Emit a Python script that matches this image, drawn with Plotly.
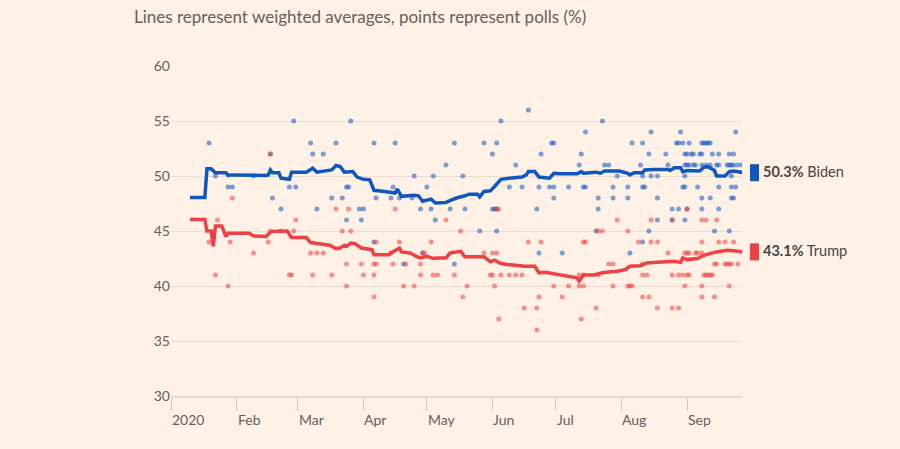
import plotly.graph_objects as go
import pandas as pd

# ---------------- data (day = days since 2020-01-01) ----------------
biden_avg_day = [9, 16, 17, 19, 21, 26, 27, 28, 45, 46, 47, 48, 51, 52, 56, 57, 64, 67, 69, 73, 76, 78, 80, 82, 86, 88, 91, 94, 96, 101, 104, 106, 107, 109, 115, 117, 119, 122, 123, 125, 130, 133, 135, 139, 141, 145, 146, 148, 151, 153, 156, 160, 164, 166, 168, 169, 172, 174, 179, 181, 184, 192, 194, 195, 201, 203, 205, 212, 216, 217, 219, 223, 224, 228, 235, 236, 238, 241, 242, 244, 250, 252, 254, 257, 258, 261, 262, 264, 266, 271]
biden_avg_pct = [48.05, 48.05, 50.65, 50.65, 50.3, 50.3, 50.05, 50.1, 50.05, 50.1, 50.55, 50.3, 50.3, 49.8, 49.7, 50.35, 50.35, 50.7, 50.35, 50.45, 50.55, 50.95, 50.85, 50.35, 50.4, 49.9, 49.7, 49.65, 48.7, 48.6, 48.55, 48.45, 48.8, 48.15, 48.25, 48.2, 47.7, 47.8, 47.9, 47.55, 47.6, 47.85, 48.0, 48.2, 48.35, 48.35, 48.1, 48.6, 48.65, 49.05, 49.7, 49.8, 49.9, 49.9, 50.1, 50.4, 50.4, 49.9, 49.8, 50.25, 50.2, 50.2, 50.4, 50.25, 50.35, 50.25, 50.45, 50.45, 50.25, 50.1, 50.3, 50.3, 50.55, 50.6, 50.6, 50.5, 50.75, 50.75, 50.4, 50.5, 50.45, 50.8, 50.85, 50.5, 50.0, 49.95, 50.0, 50.4, 50.45, 50.3]

trump_avg_day = [9, 16, 17, 19, 20, 21, 24, 26, 27, 37, 39, 45, 47, 48, 55, 57, 64, 66, 70, 75, 78, 80, 82, 83, 85, 87, 90, 95, 96, 103, 104, 108, 109, 113, 116, 118, 121, 124, 126, 130, 132, 137, 139, 148, 151, 153, 156, 159, 165, 167, 172, 174, 177, 180, 184, 188, 192, 193, 195, 200, 204, 208, 211, 215, 217, 222, 225, 230, 235, 238, 241, 242, 244, 249, 251, 253, 258, 263, 266, 269, 271]
trump_avg_pct = [46.05, 46.05, 45.0, 45.0, 43.6, 45.45, 45.45, 44.5, 44.8, 44.8, 44.55, 44.5, 44.9, 44.95, 45.0, 44.4, 44.4, 43.95, 43.85, 43.7, 43.4, 43.45, 43.7, 43.6, 43.9, 43.85, 43.45, 43.3, 42.85, 42.85, 43.0, 43.45, 43.1, 43.0, 42.7, 42.55, 42.7, 42.5, 42.55, 42.55, 43.0, 43.15, 42.65, 42.65, 42.2, 42.35, 42.05, 41.95, 41.85, 41.8, 41.8, 41.2, 41.25, 41.15, 41.0, 40.85, 40.75, 40.45, 41.0, 41.0, 41.2, 41.3, 41.35, 41.5, 41.8, 41.85, 42.1, 42.15, 42.2, 42.25, 42.15, 42.55, 42.4, 42.5, 42.7, 42.85, 43.1, 43.25, 43.2, 43.15, 43.1]

# polls: (pct, [days])
biden_polls = [
    (56, [169]),
    (55, [58, 85, 156, 204]),
    (54, [196, 227, 241, 267]),
    (53, [18, 66, 78, 96, 106, 134, 148, 154, 180, 181, 218, 223, 239, 240, 242, 245, 251, 252, 253, 254, 255]),
    (52, [47, 67, 72, 152, 175, 194, 226, 234, 243, 244, 246, 247, 250, 251, 256, 259, 264, 266]),
    (51, [130, 163, 193, 205, 207, 222, 235, 243, 244, 245, 247, 248, 251, 253, 255, 258, 259, 263, 264, 265, 266, 268, 270]),
    (50, [21, 39, 115, 124, 138, 211, 223, 227, 230, 243, 265]),
    (49, [27, 29, 56, 59, 83, 84, 105, 121, 160, 166, 174, 179, 181, 188, 195, 196, 209, 216, 223, 224, 242, 243, 249, 259, 265, 267]),
    (48, [48, 76, 81, 97, 104, 108, 114, 181, 202, 209, 216, 230, 251, 255, 265, 266]),
    (47, [52, 69, 89, 91, 118, 123, 132, 139, 152, 153, 154, 173, 202, 237, 240, 244, 251, 259]),
    (46, [83, 90, 125, 230, 237, 243]),
    (45, [146, 154, 201, 226, 257, 264]),
    (44, [96, 223]),
    (43, [119, 174, 185, 217]),
    (42, [110, 134]),
]
trump_polls = [
    (52, [47]),
    (48, [29]),
    (47, [78, 84, 106, 154, 155, 244]),
    (46, [22, 59, 130, 211, 227, 237, 251, 253, 258]),
    (45, [47, 52, 58, 81, 85, 137, 202, 204, 216]),
    (44, [18, 28, 46, 97, 108, 123, 169, 175, 195, 196, 221, 227, 230, 251, 259, 262, 266]),
    (43, [39, 66, 69, 72, 104, 119, 120, 148, 152, 154, 235, 243, 244, 245, 248, 249, 251]),
    (42, [83, 90, 96, 97, 105, 111, 118, 207, 209, 223, 257, 258, 262, 263, 264, 265, 268]),
    (41, [21, 56, 57, 67, 76, 91, 96, 118, 124, 126, 134, 151, 152, 156, 160, 163, 166, 193, 195, 202, 223, 225, 237, 240, 242, 244, 245, 252, 253, 254, 255, 256]),
    (40, [27, 83, 110, 115, 140, 153, 181, 188, 193, 195, 209, 216, 217, 218, 243, 251, 264]),
    (39, [96, 138, 174, 185, 223, 226, 251, 257]),
    (38, [167, 173, 201, 230, 237, 240]),
    (37, [155, 194]),
    (36, [173]),
]

month_ticks = ["2020-01-01", "2020-02-01", "2020-03-01", "2020-04-01", "2020-05-01",
               "2020-06-01", "2020-07-01", "2020-08-01", "2020-09-01"]
month_labels = ["2020", "Feb", "Mar", "Apr", "May", "Jun", "Jul", "Aug", "Sep"]
y_ticks = [30, 35, 40, 45, 50, 55, 60]

title_text = "Lines represent weighted averages, points represent polls (%)"

# ---------------- styling ----------------
BG = "#fff1e5"
BLUE = "#0f57bd"
RED = "#ec4145"
GRID = "#e8dcd1"
TXT = "#66605c"
FONT = "Lato, 'Noto Sans', sans-serif"
BASE = pd.Timestamp("2020-01-01")


def to_dates(days):
    return [BASE + pd.Timedelta(days=int(d)) for d in days]


def flatten(polls):
    xs, ys = [], []
    for pct, days in polls:
        for d in days:
            xs.append(d)
            ys.append(pct)
    return to_dates(xs), ys


fig = go.Figure()

for polls, col in [(biden_polls, BLUE), (trump_polls, RED)]:
    px_, py_ = flatten(polls)
    fig.add_trace(go.Scatter(x=px_, y=py_, mode="markers",
                             marker=dict(size=5, color=col, opacity=0.55, line=dict(width=0)),
                             hoverinfo="skip", showlegend=False))

for dd, vv, col in [(trump_avg_day, trump_avg_pct, RED), (biden_avg_day, biden_avg_pct, BLUE)]:
    fig.add_trace(go.Scatter(x=to_dates(dd), y=vv, mode="lines",
                             line=dict(color=col, width=3.5),
                             hoverinfo="skip", showlegend=False))

annotations = []
for t, lab in zip(month_ticks, month_labels):
    annotations.append(dict(x=t, y=0, xref="x", yref="paper", text=lab, showarrow=False,
                            xanchor="left", yanchor="top", xshift=-1, yshift=-13,
                            font=dict(family=FONT, size=14, color=TXT)))

shapes = []
for name, vals, col in [("Biden", biden_avg_pct, BLUE), ("Trump", trump_avg_pct, RED)]:
    last = vals[-1]
    annotations.append(dict(x=1, y=last, xref="paper", yref="y", showarrow=False,
                            text=f"<b>{last:.1f}%</b> {name}", xanchor="left", yanchor="middle",
                            xshift=19, yshift=1, font=dict(family=FONT, size=14.5, color="#4a4542")))
    shapes.append(dict(type="rect", xref="paper", yref="y", xsizemode="pixel", ysizemode="pixel",
                       xanchor=1, yanchor=last, x0=8, x1=17, y0=-8.5, y1=8.5,
                       fillcolor=col, line=dict(width=0)))

fig.update_layout(
    width=900, height=449,
    margin=dict(l=171, r=158, t=66, b=53),
    paper_bgcolor=BG, plot_bgcolor=BG,
    title=dict(text=title_text, x=134 / 900, xanchor="left", xref="container",
               y=1 - 17 / 449, yanchor="middle", yref="container",
               font=dict(family=FONT, size=17, color=TXT)),
    xaxis=dict(type="date", range=["2020-01-01", "2020-09-27"],
               tickvals=month_ticks, showticklabels=False,
               ticks="outside", ticklen=13, tickcolor="#d3c7bc", tickwidth=1,
               showgrid=False, showline=True, linecolor=GRID, linewidth=2,
               zeroline=False, fixedrange=True),
    yaxis=dict(range=[30, 60], tickvals=y_ticks, showgrid=True, gridcolor=GRID, gridwidth=1,
               zeroline=False, showline=False, ticks="",
               tickfont=dict(family=FONT, size=14, color=TXT), fixedrange=True),
    annotations=annotations, shapes=shapes,
    showlegend=False,
)

fig.write_html("out.html")
